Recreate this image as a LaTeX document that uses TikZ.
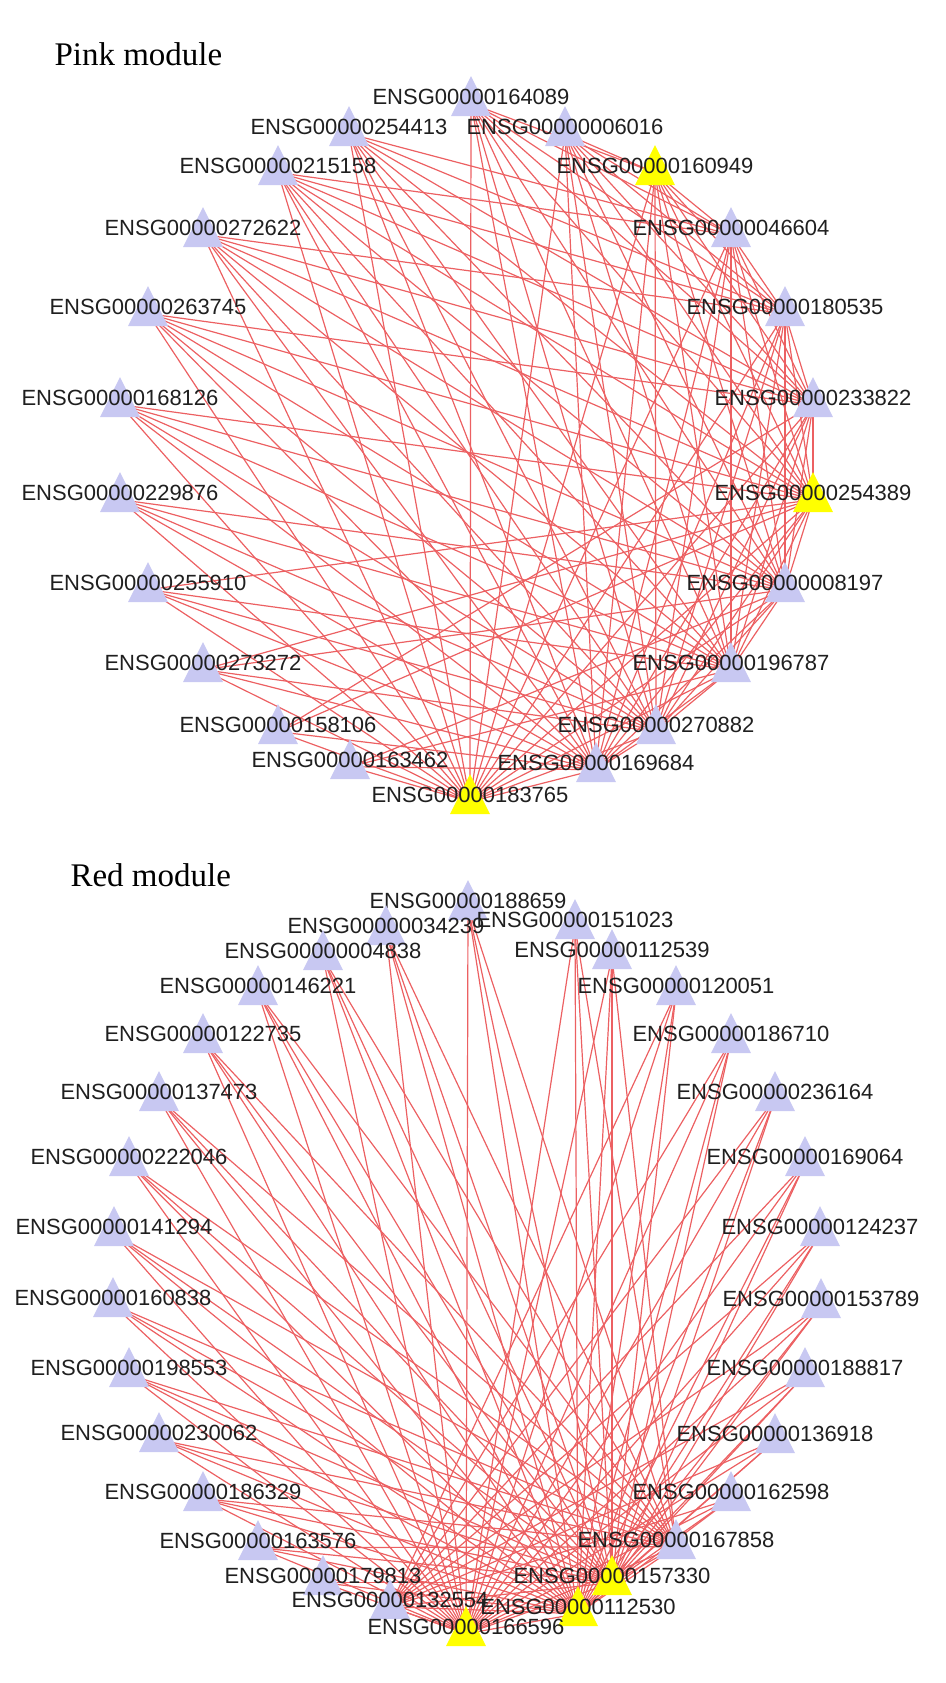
\documentclass[tikz,border=0pt]{standalone}
\usepackage{fontspec}
\setmainfont{Liberation Sans}
\newfontfamily\titlefont{Liberation Serif}
\usetikzlibrary{shapes.geometric}
\usetikzlibrary{backgrounds}

\definecolor{genefill}{RGB}{200,200,242}
\definecolor{hubfill}{RGB}{255,255,0}
\definecolor{edgered}{RGB}{236,96,98}

\tikzset{
  gene/.style={isosceles triangle, isosceles triangle stretches, shape border rotate=90,
    minimum width=40pt, minimum height=40pt, inner sep=0pt, fill=genefill, draw=none,
    yshift=-6.7pt},
  hub/.style={gene, fill=hubfill},
  genelabel/.style={font=\fontsize{22}{22}\selectfont, text=black!88, inner sep=0pt,
    yshift=6.7pt},
  modtitle/.style={anchor=base west, font=\titlefont\fontsize{33}{33}\selectfont},
  link/.style={draw=edgered, line width=1.2pt}
}

\begin{document}
\begin{tikzpicture}[x=1pt, y=-1pt]

        \useasboundingbox (0,0) rectangle (945,1683);

        % Module titles
        \node[modtitle] (pinktitle) at (51,66) {Pink module};
        \node[modtitle] (redtitle) at (67,886) {Red module};

        % Pink module genes
        \foreach \n/\x/\y in {164089/471/97, 254413/349/127, 006016/565/127, 215158/278/166,
            272622/203/228, 046604/731/228, 263745/148/307, 180535/785/307,
            168126/120/398, 233822/813/398, 229876/120/493, 255910/148/583,
            008197/785/583, 273272/203/663, 196787/731/663, 158106/278/725,
            270882/656/725, 163462/350/760, 169684/596/763} {
          \node[gene, label={[genelabel]center:ENSG00000\n}] (p\n) at (\x,\y) {};
        }

        % Pink module hub genes
        \foreach \n/\x/\y in {160949/655/166, 254389/813/493, 183765/470/795} {
          \node[hub, label={[genelabel]center:ENSG00000\n}] (p\n) at (\x,\y) {};
        }

        % Red module genes
        \foreach \n/\x/\y in {188659/468/901, 034239/386/926, 151023/575/920, 004838/323/951,
            112539/612/950, 146221/258/986, 120051/676/986, 122735/203/1034,
            186710/731/1034, 137473/159/1092, 236164/775/1092, 222046/129/1157,
            169064/805/1157, 141294/114/1227, 124237/820/1227, 160838/113/1298,
            153789/821/1299, 198553/129/1368, 188817/805/1368, 230062/159/1433,
            136918/775/1434, 186329/203/1492, 162598/731/1492, 163576/258/1541,
            167858/676/1540, 179813/323/1576, 132554/390/1600} {
          \node[gene, label={[genelabel]center:ENSG00000\n}] (r\n) at (\x,\y) {};
        }

        % Red module hub genes
        \foreach \n/\x/\y in {157330/612/1576, 112530/578/1607, 166596/466/1627} {
          \node[hub, label={[genelabel]center:ENSG00000\n}] (r\n) at (\x,\y) {};
        }

        \begin{pgfonlayer}{background}
          % Pink module: left and upper genes to the right genes below them
          \foreach \a/\targets in {
              p164089/{p160949,p046604,p180535,p233822,p254389,p008197,p196787,p270882,p169684,p183765},
              p254413/{p046604,p180535,p233822,p254389,p008197,p196787,p270882,p169684,p183765},
              p006016/{p160949,p046604,p180535,p233822,p254389,p008197,p196787,p270882,p169684,p183765},
              p215158/{p046604,p180535,p233822,p254389,p008197,p196787,p270882,p169684,p183765},
              p272622/{p180535,p233822,p254389,p008197,p196787,p270882,p169684,p183765},
              p263745/{p233822,p254389,p008197,p196787,p270882,p169684,p183765},
              p168126/{p254389,p008197,p196787,p270882,p169684,p183765},
              p229876/{p008197,p196787,p270882,p169684,p183765},
              p255910/{p254389,p196787,p270882,p169684,p183765},
              p273272/{p254389,p008197,p270882,p169684,p183765},
              p158106/{p233822,p254389,p169684,p183765},
              p163462/{p008197,p196787,p169684,p183765}} {
            \foreach \b in \targets {
              \draw[link] (\a.center) -- (\b.center);
            }
          }

          % Pink module: right genes among themselves
          \foreach \a/\targets in {
              p160949/{p046604,p180535,p233822,p254389,p008197,p196787,p270882,p169684,p183765},
              p046604/{p180535,p233822,p254389,p008197,p196787,p270882,p169684,p183765},
              p180535/{p233822,p254389,p008197,p196787,p270882,p169684,p183765},
              p233822/{p254389,p008197,p196787,p270882,p169684,p183765},
              p254389/{p008197,p196787,p270882,p169684,p183765},
              p008197/{p196787,p270882,p169684,p183765},
              p196787/{p270882,p169684,p183765},
              p270882/{p169684,p183765},
              p169684/{p183765}} {
            \foreach \b in \targets {
              \draw[link] (\a.center) -- (\b.center);
            }
          }

          % Red module: every gene to the hubs
          \foreach \n in {188659,034239,151023,004838,112539,146221,120051,122735,186710,
              137473,236164,222046,169064,141294,124237,160838,153789,198553,188817,
              230062,136918,186329,162598,163576,179813,132554} {
            \foreach \b in {r166596,r112530,r157330} {
              \draw[link] (r\n.center) -- (\b.center);
            }
          }

          % Red module: extra links from the upper and left genes
          \foreach \n in {188659,034239,151023,004838,112539,146221,122735,137473,
              222046,141294,160838,198553,230062,186329,163576} {
            \draw[link] (r\n.center) -- (r167858.center);
          }

          % Red module: extra links from the right genes
          \foreach \n in {120051,186710,236164,169064,124237,153789,188817,136918,162598} {
            \draw[link] (r\n.center) -- (r132554.center);
          }

          % Red module: hubs among themselves
          \draw[link] (r157330.center) -- (r112530.center);
          \draw[link] (r157330.center) -- (r166596.center);
          \draw[link] (r112530.center) -- (r166596.center);
          \draw[link] (r167858.center) -- (r157330.center);
          \draw[link] (r167858.center) -- (r112530.center);
          \draw[link] (r167858.center) -- (r166596.center);
        \end{pgfonlayer}

      \end{tikzpicture}
\end{document}
